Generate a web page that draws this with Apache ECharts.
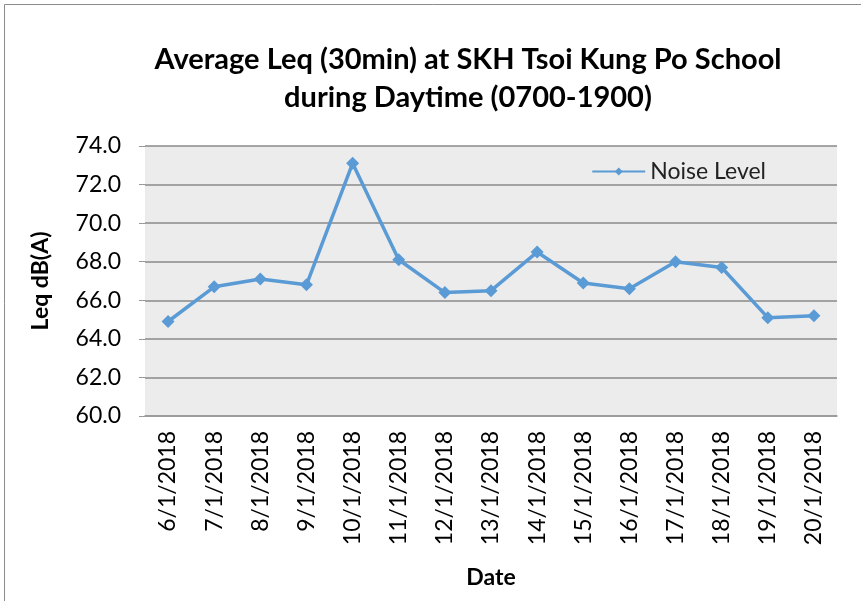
<!DOCTYPE html>
<html>
<head>
<meta charset="utf-8">
<script src="https://cdn.jsdelivr.net/npm/echarts@6/dist/echarts.min.js"></script>
<style>
  html, body { margin: 0; padding: 0; background: #fff; }
  #chart { width: 861px; height: 601px; }
</style>
</head>
<body>
<div id="chart"></div>
<script>
const dates = ["6/1/2018", "7/1/2018", "8/1/2018", "9/1/2018", "10/1/2018", "11/1/2018", "12/1/2018",
  "13/1/2018", "14/1/2018", "15/1/2018", "16/1/2018", "17/1/2018", "18/1/2018", "19/1/2018", "20/1/2018"];
const noiseLevel = [64.9, 66.7, 67.1, 66.8, 73.1, 68.1, 66.4, 66.5, 68.5, 66.9, 66.6, 68.0, 67.7, 65.1, 65.2];

const font = "Lato, 'Liberation Sans', sans-serif";
const myChart = echarts.init(document.getElementById("chart"));

const option = {
  animation: false,
  backgroundColor: "#fff",
  title: {
    text: "Average Leq (30min) at SKH Tsoi Kung Po School\nduring Daytime (0700-1900)",
    top: 36,
    left: 463,
    textAlign: "center",
    textStyle: { fontFamily: font, fontSize: 29, fontWeight: "bold", color: "#000", lineHeight: 38 }
  },
  graphic: [{
    type: "rect",
    shape: { x: 4.5, y: 4.5, width: 900, height: 700 },
    style: { fill: null, stroke: "#8c8c8c", lineWidth: 1 }
  }],
  legend: {
    data: ["Noise Level"],
    right: 90,
    top: 155,
    itemWidth: 53,
    itemHeight: 10,
    itemGap: 5,
    textStyle: { fontFamily: font, fontSize: 23, color: "#222" }
  },
  grid: { left: 145, right: 24, top: 146, bottom: 185, show: true, backgroundColor: "#ececec", borderWidth: 0 },
  xAxis: {
    type: "category",
    data: dates,
    name: "Date",
    nameLocation: "middle",
    nameGap: 150,
    nameTextStyle: { fontFamily: font, fontSize: 23, fontWeight: "bold", color: "#000" },
    axisLine: { lineStyle: { color: "#999", width: 1.5 } },
    axisTick: { show: false },
    axisLabel: { rotate: 90, fontFamily: font, fontSize: 23, color: "#000", margin: 15 }
  },
  yAxis: {
    type: "value",
    min: 60,
    max: 74,
    interval: 2,
    name: "Leq dB(A)",
    nameLocation: "middle",
    nameGap: 93,
    nameTextStyle: { fontFamily: font, fontSize: 23, fontWeight: "bold", color: "#000" },
    axisLine: { show: false },
    axisTick: { show: true, length: 6, lineStyle: { color: "#999" } },
    axisLabel: { fontFamily: font, fontSize: 23, color: "#000", margin: 24, formatter: v => v.toFixed(1) },
    splitLine: { lineStyle: { color: "#8a8a8a", width: 1.5 } }
  },
  series: [{
    name: "Noise Level",
    type: "line",
    data: noiseLevel,
    symbol: "diamond",
    symbolSize: 13,
    color: "#5b9bd5",
    lineStyle: { width: 3.5, color: "#5b9bd5" },
    itemStyle: { color: "#5b9bd5" }
  }]
};
option && myChart.setOption(option);
</script>
</body>
</html>
